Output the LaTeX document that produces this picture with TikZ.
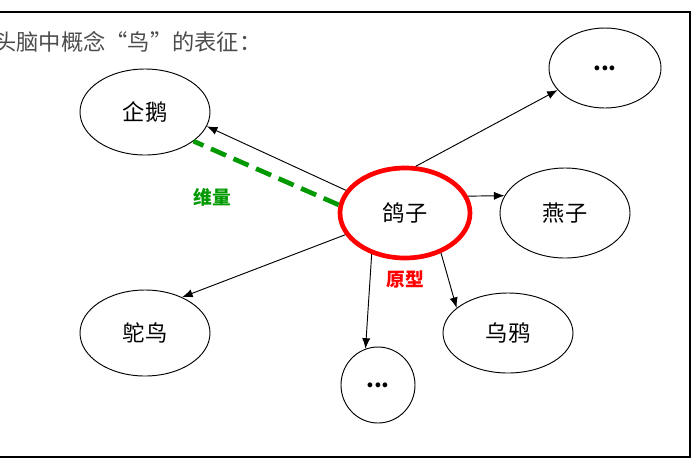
\documentclass[tikz,border=0pt]{standalone}
\usepackage{fontspec}
\setmainfont{Noto Sans CJK SC}
\usetikzlibrary{shapes.geometric, arrows.meta}

\begin{document}
\begin{tikzpicture}[x=0.03cm, y=-0.03cm, thick, >={Latex[length=9pt, width=7pt]},
    main/.style = {draw, ellipse, minimum width=3.9cm, minimum height=2.58cm, font=\fontsize{19}{19}\selectfont},
    dots/.style = {draw, ellipse, font=\fontsize{19}{19}\selectfont\bfseries},
    tag/.style = {font=\fontsize{16}{16}\selectfont\bfseries}]
        \useasboundingbox (0,0) rectangle (693,462);
        \draw[line width=1.5pt] (0,12) -- (690,12) -- (690,457) -- (0,457);

        \node[anchor=west, text=black!70, font=\fontsize{19}{19}\selectfont] (title) at (-10,42) {头脑中概念“鸟”的表征：};

        \node[main] (qie) at (145,112) {企鹅};
        \node[dots, minimum width=3.36cm, minimum height=2.4cm] (top) at (605,68) {...};
        \node[main, draw=red, line width=4pt, minimum height=2.7cm] (gezi) at (405,213) {鸽子};
        \node[main, minimum height=2.7cm] (yanzi) at (565,213) {燕子};
        \node[main] (tuoniao) at (145,333) {鸵鸟};
        \node[main, minimum height=2.4cm] (wuya) at (508,333) {乌鸦};
        \node[dots, minimum width=2.22cm, minimum height=2.28cm] (bottom) at (378,385) {...};

        \node[tag, text=green!60!black] (weiliang) at (212,197) {维量};
        \node[tag, text=red] (yuanxing) at (405,280) {原型};

        % arrows out of the prototype
        \draw[->] (gezi.159) -- (qie.-13);
        \draw[->] (gezi.77) -- (top.205);
        \draw[->] (gezi.15) -- (yanzi.164);
        \draw[->] (gezi.200) -- (tuoniao.44);
        \draw[->] (gezi.231) -- (bottom.109);
        \draw[->] (gezi.312) -- (wuya.154);

        % dimension
        \draw[green!60!black, line width=4pt, dash pattern=on 14pt off 7pt] (gezi.173) -- (qie.-31);
\end{tikzpicture}
\end{document}
